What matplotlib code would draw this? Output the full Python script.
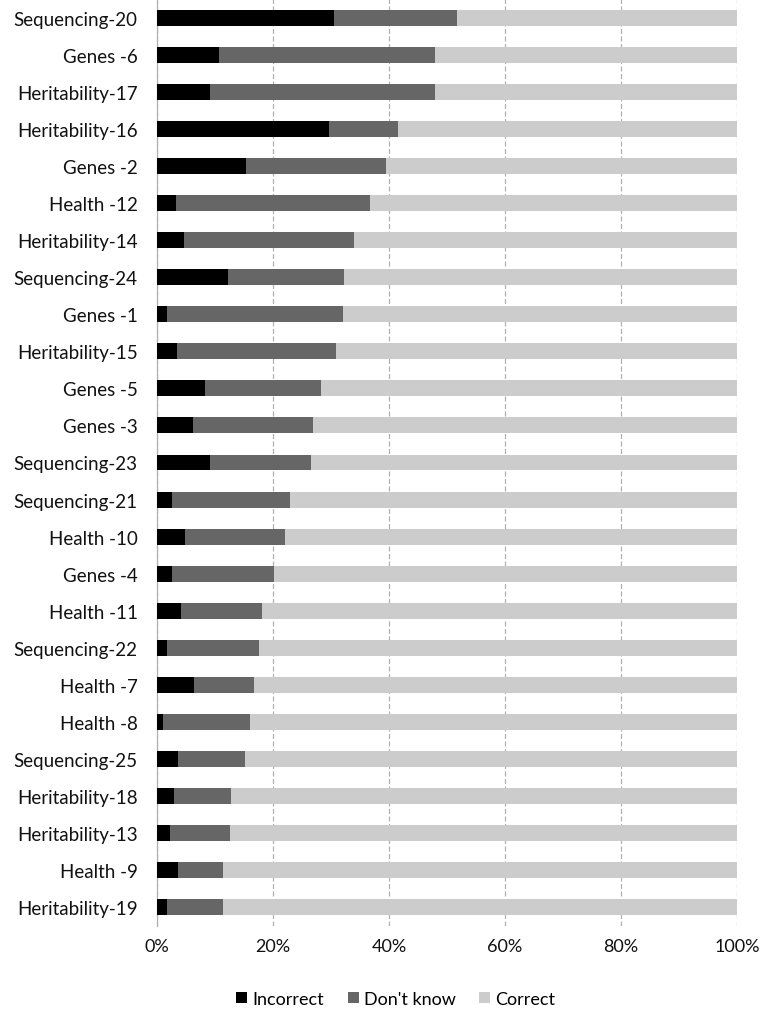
import numpy as np
import matplotlib
matplotlib.use("Agg")
import matplotlib.pyplot as plt
from matplotlib.ticker import PercentFormatter

# Data (percent of answers), top to bottom as in the chart
questions = ["Sequencing-20", "Genes -6", "Heritability-17", "Heritability-16", "Genes -2",
             "Health -12", "Heritability-14", "Sequencing-24", "Genes -1", "Heritability-15",
             "Genes -5", "Genes -3", "Sequencing-23", "Sequencing-21", "Health -10",
             "Genes -4", "Health -11", "Sequencing-22", "Health -7", "Health -8",
             "Sequencing-25", "Heritability-18", "Heritability-13", "Health -9", "Heritability-19"]
incorrect = [30.6, 10.7, 9.2, 29.7, 15.3, 3.2, 4.7, 12.2, 1.7, 3.5,
             8.3, 6.2, 9.2, 2.5, 4.9, 2.5, 4.1, 1.7, 6.4, 1.0,
             3.7, 2.9, 2.2, 3.7, 1.7]
dont_know = [21.2, 37.3, 38.8, 11.9, 24.2, 33.5, 29.2, 20.1, 30.3, 27.3,
             19.9, 20.7, 17.4, 20.4, 17.2, 17.7, 14.0, 15.8, 10.3, 15.0,
             11.5, 9.9, 10.3, 7.6, 9.6]
correct = [48.2, 52.0, 52.0, 58.4, 60.5, 63.3, 66.1, 67.7, 68.0, 69.2,
           71.8, 73.1, 73.4, 77.1, 77.9, 79.8, 81.9, 82.5, 83.3, 84.0,
           84.8, 87.2, 87.5, 88.7, 88.7]

series = [("Incorrect", incorrect, "#000000"),
          ("Don't know", dont_know, "#666666"),
          ("Correct", correct, "#cccccc")]

plt.rcParams["font.family"] = ["Lato", "DejaVu Sans"]

fig = plt.figure(figsize=(7.68, 10.2), dpi=100)
ax = fig.add_axes([157/768, 1 - 927/1020, 580/768, 927/1020])

y = np.arange(len(questions))
left = np.zeros(len(questions))
for name, vals, col in series:
    vals = np.array(vals)
    ax.barh(y, vals, left=left, height=0.43, color=col, label=name, zorder=3)
    left += vals

ax.set_ylim(len(questions) - 0.5, -0.5)
ax.set_xlim(0, 100)
ax.set_yticks(y)
ax.set_yticklabels(questions, fontsize=13.5, color="#111111")
ax.set_xticks(np.arange(0, 101, 20))
ax.xaxis.set_major_formatter(PercentFormatter(decimals=0))
ax.tick_params(axis="y", length=0, pad=14)
ax.tick_params(axis="x", length=0, pad=9, labelsize=13, labelcolor="#111111")

ax.grid(axis="x", color="#b0b0b0", linestyle=(0, (4, 2)), linewidth=0.9, zorder=0)
for s in ["top", "right", "bottom"]:
    ax.spines[s].set_visible(False)
ax.spines["left"].set_color("#b0b0b0")
ax.spines["left"].set_linewidth(0.9)

fig.legend(loc="center", bbox_to_anchor=(396/768, 1 - 1000/1020), ncol=3,
           frameon=False, fontsize=13, handlelength=0.6, handleheight=0.6,
           handletextpad=0.3, columnspacing=1.3)

fig.savefig("out.png", dpi=100)
